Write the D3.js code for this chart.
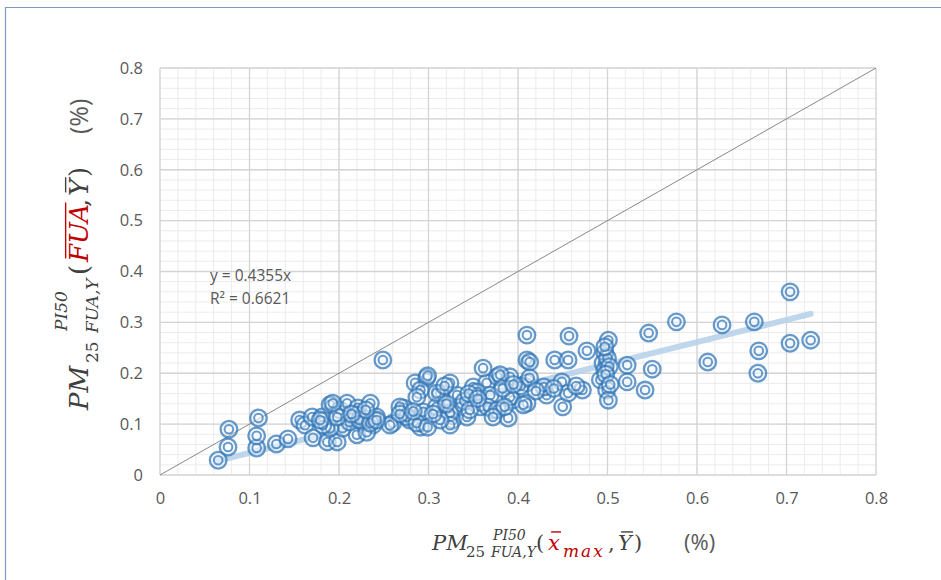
<!DOCTYPE html>
<html><head><meta charset="utf-8">
<script src="https://cdn.jsdelivr.net/npm/d3@7"></script>
<style>body{margin:0;background:#fff;} svg{display:block}</style>
</head><body><svg id="c" width="941" height="580"></svg>
<script>
// ---- data ----
const xValues = [0.065,0.076,0.077,0.108,0.108,0.110,0.130,0.143,0.156,0.162,0.171,0.170,0.181,0.187,0.198,0.190,0.201,0.209,0.221,0.235,
0.220,0.204,0.190,0.182,0.212,0.227,0.238,0.231,0.242,0.198,0.220,0.179,0.193,0.223,0.235,0.260,0.272,0.279,0.291,0.285,
0.298,0.291,0.313,0.324,0.309,0.327,0.335,0.350,0.365,0.377,0.391,0.410,0.410,0.394,0.358,0.343,0.372,0.389,0.410,0.249,
0.361,0.299,0.287,0.380,0.403,0.309,0.332,0.354,0.369,0.391,0.406,0.268,0.276,0.294,0.324,0.340,0.346,0.366,0.377,0.257,
0.242,0.287,0.299,0.324,0.313,0.410,0.457,0.413,0.441,0.456,0.477,0.501,0.497,0.495,0.497,0.492,0.499,0.501,0.522,0.522,
0.472,0.450,0.449,0.432,0.429,0.413,0.385,0.372,0.704,0.577,0.628,0.664,0.546,0.704,0.727,0.669,0.612,0.550,0.668,0.542,
0.500,0.502,0.498,0.503,0.497,0.456,0.465,0.440,0.420,0.318,0.305,0.345,0.355,0.383,0.395,0.230,0.214,0.268,0.283,0.320];
const yValues = [0.029,0.055,0.090,0.053,0.077,0.112,0.061,0.071,0.108,0.098,0.073,0.114,0.114,0.065,0.065,0.138,0.128,0.141,0.132,0.141,
0.079,0.092,0.092,0.098,0.104,0.104,0.098,0.084,0.114,0.114,0.118,0.108,0.141,0.108,0.102,0.102,0.132,0.108,0.094,0.181,
0.191,0.167,0.161,0.181,0.134,0.108,0.134,0.173,0.181,0.193,0.193,0.226,0.181,0.147,0.134,0.114,0.128,0.112,0.141,0.226,
0.210,0.195,0.153,0.197,0.175,0.161,0.157,0.163,0.157,0.153,0.138,0.134,0.114,0.124,0.122,0.145,0.128,0.134,0.128,0.098,
0.108,0.102,0.094,0.098,0.108,0.275,0.273,0.222,0.226,0.226,0.244,0.265,0.240,0.220,0.206,0.187,0.167,0.147,0.216,0.183,
0.167,0.134,0.183,0.157,0.173,0.191,0.134,0.114,0.360,0.301,0.295,0.301,0.279,0.259,0.265,0.244,0.222,0.208,0.200,0.167,
0.230,0.213,0.198,0.178,0.252,0.161,0.175,0.170,0.165,0.175,0.120,0.160,0.150,0.170,0.178,0.128,0.120,0.120,0.125,0.140];
const tickValues = [0,0.1,0.2,0.3,0.4,0.5,0.6,0.7,0.8];
const tickLabels = ["0","0.1","0.2","0.3","0.4","0.5","0.6","0.7","0.8"];
const trendSlope = 0.4355;
const trendRange = [0.064, 0.727];
const equationLines = ["y = 0.4355x", "R\u00B2 = 0.6621"];

// ---- chart ----
const svg = d3.select("#c");
const x = d3.scaleLinear().domain([0,0.8]).range([160,876]);
const y = d3.scaleLinear().domain([0,0.8]).range([475,68]);

// outer frame
svg.append("path").attr("d","M5.5,580 V7.5 H941").attr("fill","none").attr("stroke","#7b9cc0").attr("stroke-width",1.2);

// grid
const minor = d3.range(0, 0.8001, 0.02);
const gg = svg.append("g");
gg.selectAll(".mx").data(minor).join("line")
  .attr("x1",d=>x(d)).attr("x2",d=>x(d)).attr("y1",y(0)).attr("y2",y(0.8))
  .attr("stroke","#ececec").attr("stroke-width",1);
gg.selectAll(".my").data(minor).join("line")
  .attr("y1",d=>y(d)).attr("y2",d=>y(d)).attr("x1",x(0)).attr("x2",x(0.8))
  .attr("stroke","#ececec").attr("stroke-width",1);
const gm = svg.append("g");
gm.selectAll(".Mx").data(tickValues).join("line")
  .attr("x1",d=>x(d)).attr("x2",d=>x(d)).attr("y1",y(0)).attr("y2",y(0.8))
  .attr("stroke","#d4d4d4").attr("stroke-width",1.3);
gm.selectAll(".My").data(tickValues).join("line")
  .attr("y1",d=>y(d)).attr("y2",d=>y(d)).attr("x1",x(0)).attr("x2",x(0.8))
  .attr("stroke","#d4d4d4").attr("stroke-width",1.3);

// axes (labels only)
const xAxis = d3.axisBottom(x).tickValues(tickValues).tickFormat((d,i)=>tickLabels[i]).tickSize(0).tickPadding(17);
const yAxis = d3.axisLeft(y).tickValues(tickValues).tickFormat((d,i)=>tickLabels[i]).tickSize(0).tickPadding(17);
const gx = svg.append("g").attr("transform",`translate(0,${y(0)})`).call(xAxis);
const gy = svg.append("g").attr("transform",`translate(${x(0)},0)`).call(yAxis);
[gx,gy].forEach(g=>{
  g.select(".domain").remove();
  g.selectAll("text").attr("font-family","'Open Sans', sans-serif").attr("font-size",16.5).attr("fill","#595959");
});

// diagonal y = x
svg.append("line").attr("x1",x(0)).attr("y1",y(0)).attr("x2",x(0.8)).attr("y2",y(0.8))
  .attr("stroke","#7a7a7a").attr("stroke-width",0.9);

// trendline
svg.append("line").attr("x1",x(trendRange[0])).attr("y1",y(trendSlope*trendRange[0]))
  .attr("x2",x(trendRange[1])).attr("y2",y(trendSlope*trendRange[1]))
  .attr("stroke","#b9d2ea").attr("stroke-width",6).attr("stroke-linecap","round").attr("opacity",0.9);

// markers
const pts = xValues.map((v,i)=>({x:v,y:yValues[i]}));
const mg = svg.append("g").selectAll("g").data(pts).join("g")
  .attr("transform",d=>`translate(${x(d.x)},${y(d.y)})`);
mg.append("circle").attr("r",8.3).attr("fill","rgba(220,235,250,0.35)").attr("stroke","#2f74b5").attr("stroke-width",2.3).attr("stroke-opacity",0.72);
mg.append("circle").attr("r",4.3).attr("fill","rgba(255,255,255,0.4)").attr("stroke","#2f74b5").attr("stroke-width",2).attr("stroke-opacity",0.72);

// equation
svg.selectAll(".eq").data(equationLines).join("text")
  .attr("x",210).attr("y",(d,i)=>281+i*23)
  .attr("font-family","'Open Sans', sans-serif").attr("font-size",15.5).attr("fill","#595959").text(d=>d);

// ---- axis titles ----
const RED = "#c00000", DARK = "#404040";
function drawPieces(g, pieces){
  pieces.forEach(q=>{
    const t = g.append("text").attr("x",q.at).attr("y",q.dy||0)
      .attr("font-family", q.sans ? "'Open Sans', sans-serif" : "'DejaVu Serif', serif")
      .attr("font-style", q.italic ? "italic" : "normal")
      .attr("font-size", q.size).attr("fill", q.color || DARK).text(q.t);
    if (q.ls) t.attr("letter-spacing", q.ls);
    const w = t.node().getComputedTextLength();
    if (q.over){
      const sh = q.italic ? 0.1*q.size : 0;
      const oy = (q.dy||0) - 0.86*q.size;
      g.append("line").attr("x1",q.at+1+sh).attr("x2",q.at+w+sh-1).attr("y1",oy).attr("y2",oy)
        .attr("stroke", q.color || DARK).attr("stroke-width",1.4);
    }
  });
}
const xTitle = [
  {t:"PM", at:0, size:21, italic:true},
  {t:"25", at:34, size:15, dy:7},
  {t:"PI50", at:61, size:14, dy:-10, italic:true},
  {t:"FUA,Y", at:59, size:14, dy:7, italic:true},
  {t:"(", at:104, size:21},
  {t:"x", at:116, size:21, italic:true, color:RED, over:true},
  {t:"max", at:131, size:17, dy:7, italic:true, color:RED, ls:2},
  {t:",", at:176, size:21},
  {t:"Y", at:186, size:21, italic:true, over:true},
  {t:")", at:202, size:21},
  {t:"(%)", at:252, size:22, sans:true, color:"#595959"}
];
const yTitle = [
  {t:"PM", at:0, size:26, italic:true},
  {t:"25", at:47, size:17, dy:10},
  {t:"PI50", at:79, size:17, dy:-21, italic:true},
  {t:"FUA,Y", at:77, size:17, dy:10, italic:true},
  {t:"(", at:135, size:26},
  {t:"FUA", at:148, size:26, italic:true, color:RED, over:true},
  {t:",", at:203, size:26},
  {t:"Y", at:214, size:26, italic:true, over:true},
  {t:")", at:233, size:26},
  {t:"(%)", at:276, size:25, sans:true, color:"#595959"}
];
drawPieces(svg.append("g").attr("transform","translate(432,550)"), xTitle);
drawPieces(svg.append("g").attr("transform","translate(88,410) rotate(-90)"), yTitle);
</script></body></html>
